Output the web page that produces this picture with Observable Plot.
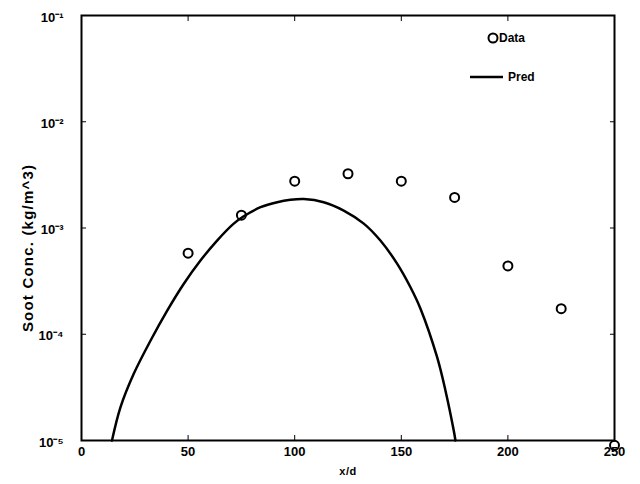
<!DOCTYPE html>
<html>
<head>
<meta charset="utf-8">
<script src="https://cdn.jsdelivr.net/npm/d3@7"></script>
<script src="https://cdn.jsdelivr.net/npm/@observablehq/plot@0.6"></script>
<style>
  html, body { margin: 0; padding: 0; background: #fff; }
  #chart svg { font-family: "Liberation Sans", Arial, sans-serif; font-weight: bold; }
  #chart g[aria-label="y-axis label"] text { letter-spacing: 1.2px; }
  #chart g[aria-label="x-axis label"] text { letter-spacing: 0.5px; }
</style>
</head>
<body>
<div id="chart"></div>
<script>
// Measured data (circles)
const xData = [50, 75, 100, 125, 150, 175, 200, 225, 250];
const yData = [5.8e-4, 1.32e-3, 2.76e-3, 3.24e-3, 2.76e-3, 1.94e-3, 4.4e-4, 1.74e-4, 9e-6];
// Prediction curve
const xPred = [14.3, 18.3, 24.5, 32.4, 40.2, 48.0, 55.8, 63.6, 71.4, 76.1, 84.0, 91.8, 98.0, 104.3, 113.6, 123.0, 132.4, 140.2, 148.1, 154.3, 159.0, 166.8, 170.7, 174.6, 175.4];
const yPred = [1.0e-5, 2.06e-5, 4.24e-5, 8.73e-5, 1.67e-4, 2.99e-4, 4.94e-4, 7.62e-4, 1.10e-3, 1.29e-3, 1.57e-3, 1.75e-3, 1.84e-3, 1.87e-3, 1.75e-3, 1.46e-3, 1.10e-3, 7.62e-4, 4.60e-4, 2.77e-4, 1.74e-4, 6.08e-5, 2.96e-5, 1.24e-5, 1.0e-5];
// Ticks
const xTicks = [0, 50, 100, 150, 200, 250];
const yTicks = [1e-5, 1e-4, 1e-3, 1e-2, 1e-1];
const yTickLabels = ["10⁻⁵", "10⁻⁴", "10⁻³", "10⁻²", "10⁻¹"];
const legendLabels = ["Data", "Pred"];

const dataRows = xData.map((x, i) => ({x, y: yData[i]}));
const predRows = xPred.map((x, i) => ({x, y: yPred[i]}));

function legend(index, scales, values, dimensions) {
  const fx = dimensions.width - dimensions.marginRight;
  const g = d3.create("svg:g").attr("font-size", 12).attr("font-weight", "bold").attr("text-anchor", "start");
  g.append("circle").attr("cx", fx - 121).attr("cy", 38).attr("r", 4.5)
    .attr("fill", "none").attr("stroke", "black").attr("stroke-width", 2);
  g.append("text").attr("x", fx - 115).attr("y", 38).attr("dy", "0.35em").text(legendLabels[0]);
  g.append("line").attr("x1", fx - 144).attr("x2", fx - 111).attr("y1", 77).attr("y2", 77)
    .attr("stroke", "black").attr("stroke-width", 2.5);
  g.append("text").attr("x", fx - 106).attr("y", 77).attr("dy", "0.35em").text(legendLabels[1]);
  return g.node();
}

const chart = Plot.plot({
  width: 640,
  height: 484,
  marginLeft: 81,
  marginRight: 26,
  marginTop: 15,
  marginBottom: 44,
  style: {fontSize: "13px", fontWeight: "bold", fontFamily: "Liberation Sans, Arial, sans-serif", color: "black"},
  x: {domain: [0, 250]},
  y: {type: "log", domain: [1e-5, 1e-1]},
  marks: [
    Plot.frame({stroke: "black", strokeWidth: 2}),
    Plot.axisX({ticks: xTicks, tickSize: 0, tickPadding: 6, tickFormat: d => String(d), label: null}),
    Plot.axisX({ticks: xTicks, tickSize: -5, fill: "none", label: null}),
    Plot.axisX({anchor: "top", ticks: xTicks, tickSize: -5, fill: "none", label: null}),
    Plot.axisX({ticks: [], label: "x/d", labelAnchor: "center", labelOffset: 34, labelArrow: "none", dx: -25, fontSize: 11}),
    Plot.axisY({ticks: yTicks, tickSize: 0, tickPadding: 18, dy: 2, tickFormat: d => yTickLabels[yTicks.indexOf(d)], label: null}),
    Plot.axisY({ticks: yTicks, tickSize: -5, fill: "none", label: null}),
    Plot.axisY({anchor: "right", ticks: yTicks, tickSize: -5, fill: "none", label: null}),
    Plot.axisY({ticks: [], label: "Soot Conc. (kg/m^3)", labelAnchor: "center", labelOffset: 59, labelArrow: "none", fontSize: 15}),
    Plot.line(predRows, {x: "x", y: "y", stroke: "black", strokeWidth: 2.5, curve: "catmull-rom"}),
    Plot.dot(dataRows, {x: "x", y: "y", r: 4.5, stroke: "black", strokeWidth: 2, fill: "none"}),
    legend
  ]
});
// nudge the y-axis title down to where the reference places it
d3.select(chart).selectAll('g[aria-label="y-axis label"]').each(function () {
  const t = this.getAttribute("transform") || "";
  this.setAttribute("transform", "translate(0,20) " + t);
});
document.getElementById("chart").append(chart);
</script>
</body>
</html>
